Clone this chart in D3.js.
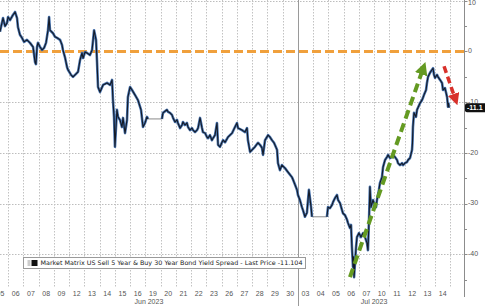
<!DOCTYPE html>
<html>
<head>
<meta charset="utf-8">
<script src="https://cdn.jsdelivr.net/npm/d3@7"></script>
<style>
  html, body { margin: 0; padding: 0; background: #fff; }
  svg { display: block; }
</style>
</head>
<body>
<svg id="board" width="485" height="306"></svg>
<script>
// trading-day labels along the bottom (one per session)
const dayLabels = ["05","06","07","08","09","12","13","14","15","16","19","20","21","22","23","26","27","28","29","30",
                   "03","04","05","06","07","10","11","12","13","14"];
const months = [
    { name: "Jun 2023", start: 0, end: 20 },
    { name: "Jul 2023", start: 20, end: 30 }
];
const yMajor = [10, 0, -10, -20, -30, -40];
const yMinor = [5, -5, -15, -25, -35, -45];

// series: time in trading days from the first session, spread in bp
const times = [0.47,0.67,0.80,0.93,1.00,1.13,1.32,1.46,1.59,1.65,1.78,1.91,2.05,2.24,2.44,2.64,2.77,2.83,2.90,2.96,
    3.10,3.23,3.36,3.49,3.62,3.69,3.75,3.95,4.08,4.21,4.41,4.54,4.60,4.73,4.87,4.93,5.13,5.26,5.46,5.59,
    5.72,5.85,5.92,6.05,6.18,6.37,6.51,6.64,6.77,6.83,6.90,7.03,7.23,7.49,7.69,7.82,7.88,7.95,8.01,8.14,
    8.21,8.34,8.47,8.54,8.67,8.80,8.86,9.00,9.13,9.33,9.52,9.72,9.85,9.98,10.11,10.18,11.09,11.16,11.42,11.49,
    11.62,11.75,11.82,11.95,12.08,12.14,12.28,12.41,12.47,12.60,12.73,12.80,12.93,13.06,13.13,13.26,13.39,13.46,13.59,13.72,
    13.78,13.92,14.05,14.11,14.24,14.37,14.44,14.57,14.70,14.77,14.90,15.03,15.10,15.23,15.42,15.69,15.88,16.01,16.08,16.34,
    16.54,16.67,16.73,16.87,17.00,17.19,17.39,17.52,17.65,17.72,17.85,18.05,18.18,18.31,18.44,18.64,18.70,18.83,18.96,19.16,
    19.36,19.62,19.69,19.82,19.95,20.01,20.14,20.27,20.34,20.47,20.60,20.67,20.73,20.87,20.93,21.91,21.98,22.11,22.24,22.31,
    22.44,22.57,22.64,22.77,22.90,22.96,23.10,23.23,23.29,23.42,23.49,23.55,23.62,23.65,23.69,23.75,23.82,23.88,24.01,24.14,
    24.28,24.41,24.54,24.60,24.67,24.73,24.80,24.93,25.00,25.13,25.19,25.32,25.39,25.52,25.59,25.72,25.85,25.92,26.05,26.18,
    26.24,26.37,26.51,26.57,26.70,26.83,26.90,27.03,27.16,27.23,27.36,27.49,27.52,27.55,27.62,27.75,27.82,27.88,28.01,28.14,
    28.20,28.27,28.41,28.47,28.54,28.67,28.80,28.87,28.93,29.00,29.13,29.19,29.33,29.46,29.52,29.65,29.79,29.85,29.88,29.92];
const values = [3.9,6.6,5.0,5.6,6.8,6.2,7.2,7.8,6.6,4.8,3.3,2.7,1.9,2.3,1.7,0.9,-2.1,-2.5,0.9,1.7,
    0.9,0.3,0.7,1.7,4.2,6.8,4.2,3.6,2.9,2.7,2.3,1.3,0.3,-1.1,-3.1,-3.6,-4.6,-5.0,-4.4,-4.0,
    -1.7,-0.3,-1.3,-0.1,-0.3,-0.7,0.3,4.2,2.3,-1.7,-7.0,-8.0,-6.6,-6.2,-6.6,-5.6,-9.6,-12.9,-18.8,-11.5,
    -12.9,-13.5,-14.9,-13.1,-16.1,-13.5,-9.0,-7.0,-7.6,-8.6,-9.6,-11.5,-14.9,-14.1,-12.9,-13.3,-13.3,-12.1,-11.5,-11.9,
    -12.1,-12.5,-13.1,-13.9,-13.5,-14.1,-15.1,-14.5,-13.9,-14.5,-14.1,-14.9,-15.5,-15.1,-15.5,-15.9,-15.5,-15.1,-13.1,-15.1,
    -15.9,-16.1,-16.9,-17.1,-16.5,-17.5,-17.1,-16.5,-14.1,-18.4,-18.8,-17.9,-17.5,-17.9,-16.9,-16.1,-14.9,-14.1,-15.1,-15.5,
    -15.9,-15.1,-17.5,-19.8,-19.4,-18.8,-18.0,-18.4,-19.0,-20.4,-17.5,-16.5,-16.9,-17.5,-18.0,-19.4,-22.0,-23.4,-22.4,-23.0,
    -23.8,-24.8,-25.3,-26.3,-27.3,-28.3,-29.3,-30.7,-31.3,-32.6,-31.8,-29.3,-27.3,-30.7,-32.6,-32.6,-30.7,-30.9,-30.3,-29.7,
    -28.9,-28.3,-29.3,-29.9,-31.3,-31.9,-32.3,-33.2,-33.8,-34.8,-34.2,-38.6,-42.5,-40.5,-44.5,-41.7,-38.6,-36.6,-35.8,-36.6,
    -35.8,-36.6,-37.8,-39.2,-33.2,-26.7,-30.7,-29.3,-29.9,-30.7,-29.3,-27.3,-25.9,-24.8,-22.8,-21.4,-20.8,-20.4,-21.0,-20.8,
    -20.4,-20.8,-21.4,-22.0,-22.4,-22.0,-22.4,-22.0,-21.8,-21.4,-21.0,-19.4,-18.0,-14.9,-12.1,-12.9,-11.5,-11.1,-10.2,-9.6,
    -9.2,-8.6,-7.6,-6.2,-5.0,-4.2,-3.6,-3.3,-4.6,-5.2,-4.6,-5.0,-5.6,-6.2,-7.6,-7.2,-9.0,-10.9,-10.2,-11.1];

// market closed: flat grey stretches
const holidays = [[10.18, 11.09], [20.93, 21.91]];

const lastPrice = -11.104;
const legendText = "Market Matrix US Sell 5 Year & Buy 30 Year Bond Yield Spread - Last Price -11.104";

// hand drawn annotation arrows, in data units
const greenArrow = { from: [23.42, -44.5], to: [28.34, -2.3] };
const redArrow = { from: [29.59, -2.9], to: [30.44, -10.4] };

const plotW = 464, plotH = 288;
const board = d3.select("#board");

const x = d3.scaleLinear().domain([0, 30]).range([-7.2, 450.3]);
const y = d3.scaleLinear().domain([10, -40]).range([0.8, 254.3]);

board.append("defs").append("clipPath").attr("id", "plotClip")
    .append("rect").attr("x", 0).attr("y", 0).attr("width", plotW).attr("height", plotH);

// grid
const grid = board.append("g");
grid.selectAll("line.hgrid")
    .data(yMajor.filter(d => d !== 0))
    .join("line")
    .attr("class", "hgrid")
    .attr("x1", 0).attr("x2", plotW)
    .attr("y1", d => Math.round(y(d)) + 0.5).attr("y2", d => Math.round(y(d)) + 0.5)
    .attr("stroke", "#bdbdbd").attr("stroke-width", 1)
    .attr("stroke-dasharray", "1.5,1.5");

const dayEdges = d3.range(1, 31).filter(d => d !== 20);
grid.selectAll("line.vgrid")
    .data(dayEdges)
    .join("line")
    .attr("class", "vgrid")
    .attr("x1", d => Math.round(x(d)) + 0.5).attr("x2", d => Math.round(x(d)) + 0.5)
    .attr("y1", 0).attr("y2", plotH)
    .attr("stroke", "#c2c2c2").attr("stroke-width", 1)
    .attr("stroke-dasharray", "1.5,1.5");

// month separator
grid.append("line")
    .attr("x1", Math.round(x(20)) + 0.5).attr("x2", Math.round(x(20)) + 0.5)
    .attr("y1", 0).attr("y2", 306)
    .attr("stroke", "#9a9a9a").attr("stroke-width", 1);

// zero line
board.append("line")
    .attr("x1", 0).attr("x2", plotW)
    .attr("y1", y(0)).attr("y2", y(0))
    .attr("stroke", "#f0a03c").attr("stroke-width", 3)
    .attr("stroke-dasharray", "9,4");

// series split into trading runs and closed stretches
const points = times.map((t, i) => ({ t: t, v: values[i] }));
const runs = [];
const closed = [];
let current = [points[0]];
for (let i = 1; i < points.length; i++) {
    const prev = points[i - 1];
    const isHoliday = holidays.some(h => h[0] === prev.t && h[1] === points[i].t);
    if (isHoliday) {
        runs.push(current);
        closed.push([prev, points[i]]);
        current = [points[i]];
    } else {
        current.push(points[i]);
    }
}
runs.push(current);

const line = d3.line().x(d => x(d.t)).y(d => y(d.v));
const series = board.append("g").attr("clip-path", "url(#plotClip)");

series.selectAll("path.closed")
    .data(closed)
    .join("path")
    .attr("class", "closed")
    .attr("d", line)
    .attr("fill", "none")
    .attr("stroke", "#8a8a8a").attr("stroke-width", 1);

series.selectAll("path.glow")
    .data(runs)
    .join("path")
    .attr("class", "glow")
    .attr("d", line)
    .attr("fill", "none")
    .attr("stroke", "#4874b0").attr("stroke-width", 2.6)
    .attr("stroke-linejoin", "round");

series.selectAll("path.main")
    .data(runs)
    .join("path")
    .attr("class", "main")
    .attr("d", line)
    .attr("fill", "none")
    .attr("stroke", "#141a26").attr("stroke-width", 1.1)
    .attr("stroke-linejoin", "round");

// arrows
const defs = board.select("defs");
function addHead(id, color, size) {
    defs.append("marker")
        .attr("id", id)
        .attr("viewBox", "0 0 10 10")
        .attr("refX", 9).attr("refY", 5)
        .attr("markerWidth", size).attr("markerHeight", size)
        .attr("markerUnits", "userSpaceOnUse")
        .attr("orient", "auto")
        .append("path")
        .attr("d", "M0,0 L10,5 L0,10 Z")
        .attr("fill", color);
}
addHead("greenHead", "#649a22", 13);
addHead("redHead", "#d8312b", 12);

function drawArrow(a, color, width, dash, head) {
    const x1 = x(a.from[0]), y1 = y(a.from[1]);
    const x2 = x(a.to[0]), y2 = y(a.to[1]);
    const len = Math.hypot(x2 - x1, y2 - y1);
    // stop the dashes short of the tip so the head sits on the end
    const k = (len - 8) / len;
    board.append("line")
        .attr("x1", x1).attr("y1", y1)
        .attr("x2", x1 + (x2 - x1) * k).attr("y2", y1 + (y2 - y1) * k)
        .attr("stroke", color).attr("stroke-width", width)
        .attr("stroke-dasharray", dash);
    board.append("line")
        .attr("x1", x1 + (x2 - x1) * k).attr("y1", y1 + (y2 - y1) * k)
        .attr("x2", x2).attr("y2", y2)
        .attr("stroke", "none")
        .attr("marker-end", "url(#" + head + ")");
}
drawArrow(greenArrow, "#649a22", 4, "9,5", "greenHead");
drawArrow(redArrow, "#d8312b", 3.5, "7,4", "redHead");

// right axis
const axisX = plotW + 0.5;
const axis = board.append("g");
axis.append("line")
    .attr("x1", axisX).attr("x2", axisX)
    .attr("y1", 0).attr("y2", 297)
    .attr("stroke", "#8c8c8c").attr("stroke-width", 1);
axis.selectAll("line.minor")
    .data(yMinor)
    .join("line")
    .attr("class", "minor")
    .attr("x1", axisX).attr("x2", axisX + 2.5)
    .attr("y1", d => Math.round(y(d)) + 0.5).attr("y2", d => Math.round(y(d)) + 0.5)
    .attr("stroke", "#8c8c8c");
axis.selectAll("line.major")
    .data(yMajor)
    .join("line")
    .attr("class", "major")
    .attr("x1", axisX).attr("x2", axisX + 3)
    .attr("y1", d => Math.round(y(d)) + 0.5).attr("y2", d => Math.round(y(d)) + 0.5)
    .attr("stroke", "#8c8c8c");
axis.selectAll("text.ylab")
    .data(yMajor)
    .join("text")
    .attr("class", "ylab")
    .attr("x", axisX + 3.5)
    .attr("y", d => Math.max(y(d), 3.5))
    .attr("dominant-baseline", "middle")
    .attr("font-family", "Liberation Sans, Arial, sans-serif")
    .attr("font-size", "7px")
    .attr("fill", "#555")
    .text(d => d);

// last price tag
const tag = board.append("g").attr("transform", "translate(465," + y(lastPrice) + ")");
tag.append("rect")
    .attr("x", 0).attr("y", -4.5)
    .attr("width", 26).attr("height", 9)
    .attr("rx", 2)
    .attr("fill", "#111");
tag.append("text")
    .attr("x", 2).attr("y", 0.3)
    .attr("dominant-baseline", "middle")
    .attr("font-family", "Liberation Sans, Arial, sans-serif")
    .attr("font-size", "7px")
    .attr("font-weight", "bold")
    .attr("fill", "#fff")
    .text(lastPrice.toFixed(1));

// x labels
board.selectAll("text.day")
    .data(dayLabels)
    .join("text")
    .attr("class", "day")
    .attr("x", (d, i) => x(i + 0.5))
    .attr("y", 295.5)
    .attr("text-anchor", "middle")
    .attr("font-family", "Liberation Sans, Arial, sans-serif")
    .attr("font-size", "7px")
    .attr("fill", "#555")
    .text(d => d);

board.selectAll("text.month")
    .data(months)
    .join("text")
    .attr("class", "month")
    .attr("x", d => (Math.max(0, x(d.start)) + x(d.end)) / 2)
    .attr("y", 303.5)
    .attr("text-anchor", "middle")
    .attr("font-family", "Liberation Sans, Arial, sans-serif")
    .attr("font-size", "7px")
    .attr("fill", "#555")
    .text(d => d.name);

// legend
const legend = board.append("g").attr("transform", "translate(23.5,257.5)");
legend.append("rect")
    .attr("width", 282).attr("height", 11)
    .attr("fill", "#fff")
    .attr("stroke", "#9a9a9a").attr("stroke-width", 1);
legend.selectAll("line.icon")
    .data([3, 5, 7])
    .join("line")
    .attr("class", "icon")
    .attr("x1", 4).attr("x2", 7)
    .attr("y1", d => d + 0.5).attr("y2", d => d + 0.5)
    .attr("stroke", "#999");
legend.append("rect")
    .attr("x", 8).attr("y", 2.5)
    .attr("width", 6).attr("height", 6)
    .attr("fill", "#111");
legend.append("text")
    .attr("x", 17).attr("y", 7.8)
    .attr("font-family", "DejaVu Sans, Verdana, sans-serif")
    .attr("font-size", "6.2px")
    .attr("fill", "#222")
    .attr("textLength", 262)
    .attr("lengthAdjust", "spacingAndGlyphs")
    .text(legendText);
</script>
</body>
</html>
